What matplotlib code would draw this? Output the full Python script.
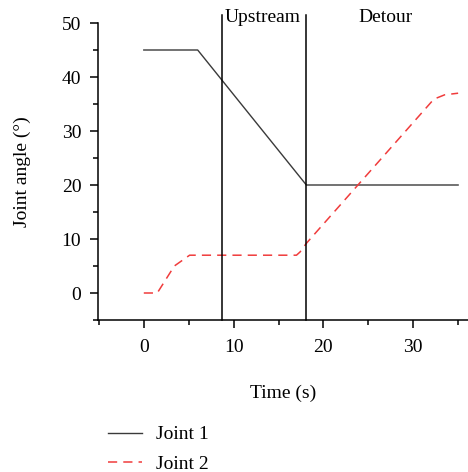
import matplotlib.pyplot as plt
from matplotlib.ticker import MultipleLocator

plt.rcParams['font.family'] = ['Liberation Serif', 'DejaVu Serif']
plt.rcParams['font.size'] = 14

# joint angle trajectories
t_joint1 = [0, 6, 18.1, 35]
joint1 = [45, 45, 20, 20]

t_joint2 = [0, 1.5, 3.4, 5.1, 17.0, 17.4, 18.1, 32.3, 33.5, 35]
joint2 = [0, 0, 5, 7, 7, 7.6, 9.2, 35.9, 36.7, 37]

phase_lines = [8.75, 18.1]
phase_labels = ['Upstream', 'Detour']
phase_label_x = [9.0, 26.9]

fig = plt.figure(figsize=(4.68, 4.72), dpi=100)
ax = fig.add_axes([98/468, 152/472, 370/468, 297/472])

l1, = ax.plot(t_joint1, joint1, color='#3a3a3a', lw=1.0, label='Joint 1')
l2, = ax.plot(t_joint2, joint2, color='#f03c3c', lw=1.1, ls=(0, (6, 4)),
              label='Joint 2')

for x in phase_lines:
    ax.plot([x, x], [-5, 51.4], color='black', lw=1.1, clip_on=False)
ax.text(phase_label_x[0], 51.1, phase_labels[0], ha='left', va='center')
ax.text(phase_label_x[1], 51.1, phase_labels[1], ha='center', va='center')

ax.set_xlim(-5.1, 36.1)
ax.set_ylim(-5, 50)
ax.xaxis.set_major_locator(MultipleLocator(10))
ax.xaxis.set_minor_locator(MultipleLocator(5))
ax.yaxis.set_major_locator(MultipleLocator(10))
ax.yaxis.set_minor_locator(MultipleLocator(5))
ax.tick_params(which='major', length=6, width=1.1, direction='out')
ax.tick_params(which='minor', length=3.5, width=1.1, direction='out')
ax.tick_params(axis='x', pad=8)
ax.tick_params(axis='y', pad=6)

ax.spines['top'].set_visible(False)
ax.spines['right'].set_visible(False)
ax.spines['left'].set_linewidth(1.1)
ax.spines['bottom'].set_linewidth(1.1)

ax.set_xlabel('Time (s)', labelpad=20)
ax.set_ylabel('Joint angle (°)', labelpad=22)

fig.legend(handles=[l1, l2], loc='upper left', bbox_to_anchor=(100/468, 1 - 418/472),
           frameon=False, handlelength=1.75, handletextpad=0.75, labelspacing=0.6,
           borderaxespad=0)

fig.savefig('out.png', dpi=100)
